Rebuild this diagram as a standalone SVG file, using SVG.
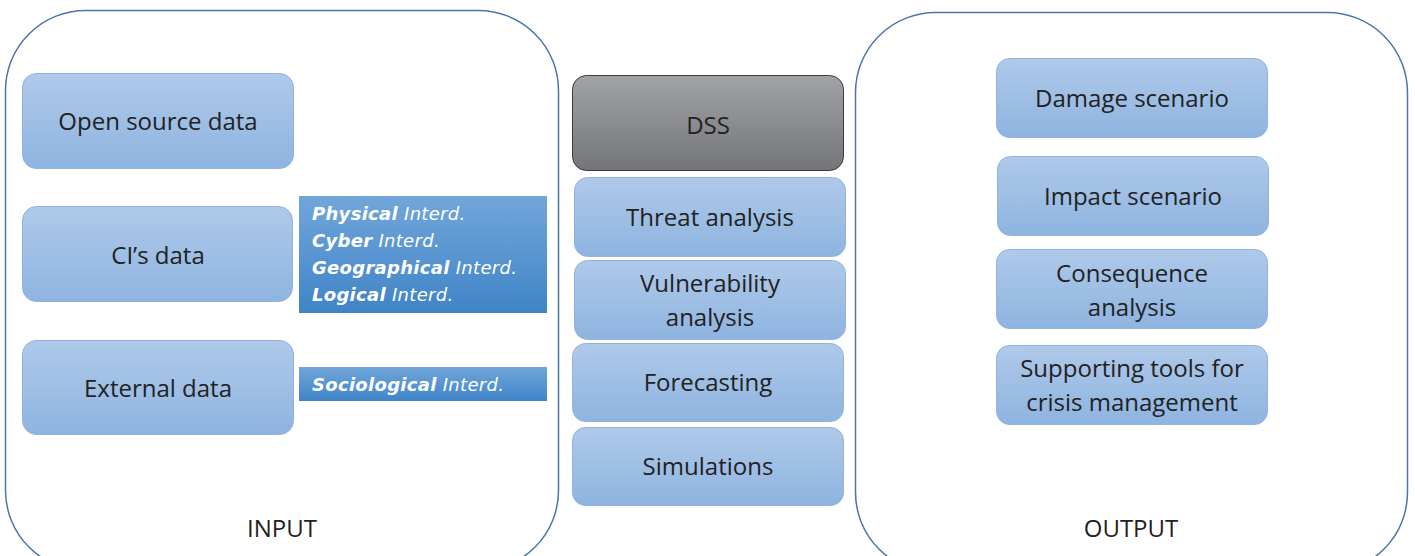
<svg xmlns="http://www.w3.org/2000/svg" width="1415" height="556" viewBox="0 0 1415 556">
<defs>
<linearGradient id="gBlue" x1="0" y1="0" x2="0" y2="1">
<stop offset="0" stop-color="#afc9e9"/>
<stop offset="1" stop-color="#8eb4e0"/>
</linearGradient>
<linearGradient id="gDark" x1="0" y1="0" x2="0" y2="1">
<stop offset="0" stop-color="#72a6da"/>
<stop offset="1" stop-color="#3f84c7"/>
</linearGradient>
<linearGradient id="gGray" x1="0" y1="0" x2="0" y2="1">
<stop offset="0" stop-color="#a2a3a6"/>
<stop offset="1" stop-color="#747579"/>
</linearGradient>
<style>
.cont{fill:#fff;stroke:#4a76a8;stroke-width:1.5}
.box{fill:url(#gBlue);stroke:#8fb3de;stroke-width:1}
.dss{fill:url(#gGray);stroke:#3c3c3c;stroke-width:1}
.dk{fill:url(#gDark)}
.t{font-family:"Open Sans","Noto Sans",sans-serif;font-size:24px;fill:#222;text-anchor:middle}
.i{font-family:"DejaVu Sans",Verdana,sans-serif;font-size:18px;fill:#fff;font-style:italic;letter-spacing:0.3px}
.b{font-weight:bold}
</style>
</defs>
<g id="input">
<rect class="cont" x="5.5" y="10.5" width="553" height="560" rx="80"/>
<text class="t" x="282" y="537">INPUT</text>
</g>
<g id="output">
<rect class="cont" x="855.5" y="12.5" width="552" height="560" rx="80"/>
<text class="t" x="1131" y="537">OUTPUT</text>
</g>
<g id="open-source">
<rect class="box" x="22.5" y="73.5" width="271" height="95" rx="14"/>
<text class="t" x="158" y="130">Open source data</text>
</g>
<g id="ci-data">
<rect class="box" x="22.5" y="206.5" width="270" height="95" rx="14"/>
<text class="t" x="158" y="264">CI’s data</text>
</g>
<g id="external">
<rect class="box" x="22.5" y="340.5" width="271" height="94" rx="14"/>
<text class="t" x="158" y="397">External data</text>
</g>
<g id="interd">
<rect class="dk" x="299" y="196" width="248" height="117"/>
<text class="i" x="312" y="220"><tspan class="b">Physical</tspan> Interd.</text>
<text class="i" x="312" y="247"><tspan class="b">Cyber</tspan> Interd.</text>
<text class="i" x="312" y="274"><tspan class="b">Geographical</tspan> Interd.</text>
<text class="i" x="312" y="301"><tspan class="b">Logical</tspan> Interd.</text>
</g>
<g id="sociological">
<rect class="dk" x="299" y="367" width="248" height="34"/>
<text class="i" x="312" y="391"><tspan class="b">Sociological</tspan> Interd.</text>
</g>
<g id="dss">
<rect class="dss" x="572.5" y="75.5" width="271" height="95" rx="14"/>
<text class="t" x="708" y="134">DSS</text>
</g>
<g id="threat">
<rect class="box" x="574.5" y="177.5" width="271" height="79" rx="13"/>
<text class="t" x="710" y="226">Threat analysis</text>
</g>
<g id="vulnerability">
<rect class="box" x="574.5" y="260.5" width="271" height="79" rx="13"/>
<text class="t" x="710" y="292">Vulnerability</text>
<text class="t" x="710" y="326">analysis</text>
</g>
<g id="forecasting">
<rect class="box" x="572.5" y="343.5" width="271" height="78" rx="13"/>
<text class="t" x="708" y="391">Forecasting</text>
</g>
<g id="simulations">
<rect class="box" x="572.5" y="427.5" width="271" height="78" rx="13"/>
<text class="t" x="708" y="475">Simulations</text>
</g>
<g id="damage">
<rect class="box" x="996.5" y="58.5" width="271" height="79" rx="13"/>
<text class="t" x="1132" y="107">Damage scenario</text>
</g>
<g id="impact">
<rect class="box" x="997.5" y="156.5" width="271" height="79" rx="13"/>
<text class="t" x="1133" y="205">Impact scenario</text>
</g>
<g id="consequence">
<rect class="box" x="996.5" y="249.5" width="271" height="79" rx="13"/>
<text class="t" x="1132" y="282">Consequence</text>
<text class="t" x="1132" y="316">analysis</text>
</g>
<g id="supporting">
<rect class="box" x="996.5" y="345.5" width="271" height="79" rx="13"/>
<text class="t" x="1132" y="377">Supporting tools for</text>
<text class="t" x="1132" y="411">crisis management</text>
</g>
<g id="connectors"></g>
</svg>
